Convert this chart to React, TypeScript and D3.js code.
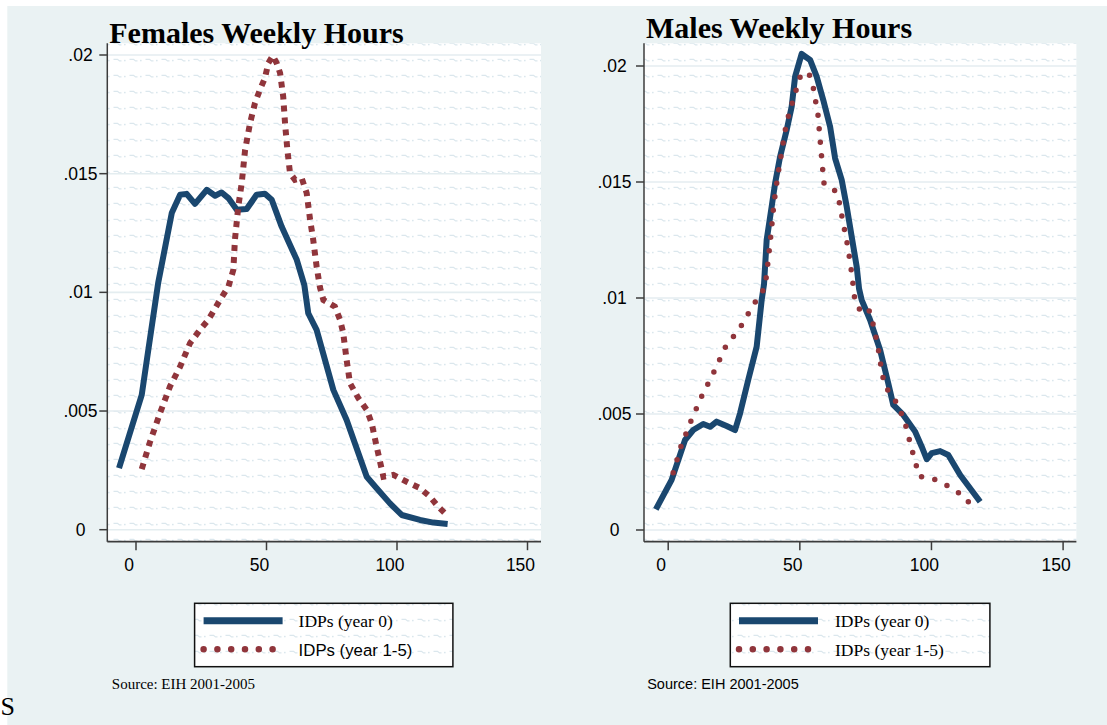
import * as d3 from "d3";

// kernel density of weekly hours: [hours, density]
const femalesYear0: [number, number][] = [
  [-6.5, 0.00259], [2.2, 0.00568], [5.1, 0.00786], [8.5, 0.0104], [13.7, 0.01334],
  [16.9, 0.01411], [19.4, 0.01415], [22.6, 0.01373], [27.1, 0.01432], [30.3, 0.01407],
  [32.8, 0.01421], [35.4, 0.01397], [38.6, 0.01348], [42.4, 0.01351], [46.2, 0.01411],
  [49.4, 0.01415], [52, 0.0139], [55.8, 0.01277], [61.6, 0.01137], [64.5, 0.0103],
  [66, 0.00912], [69.2, 0.00842], [75.6, 0.00589], [80.7, 0.00462], [88.4, 0.00223],
  [92.2, 0.00175], [97.3, 0.00111], [101.8, 0.00062], [108.8, 0.00041], [113.9, 0.0003],
  [119.4, 0.00024],
];
const femalesYear15: [number, number][] = [
  [2.2, 0.00255], [5.4, 0.00371], [9.2, 0.00491], [13, 0.00603], [16.9, 0.00687],
  [20.7, 0.00786], [24.5, 0.00842], [27.7, 0.00884], [32.2, 0.00968], [35.4, 0.01024],
  [37.3, 0.01095], [37.9, 0.01221], [39.2, 0.01362], [40.5, 0.0146], [41.8, 0.016],
  [43.7, 0.01713], [45.6, 0.01798], [47.5, 0.01854], [49.4, 0.01903], [50.7, 0.01966],
  [52.4, 0.01997], [53.9, 0.01966], [55.2, 0.01924], [56.4, 0.01825], [57.1, 0.01713],
  [58, 0.016], [59, 0.01503], [60.9, 0.01474], [63.5, 0.01481], [65.4, 0.01418],
  [66.7, 0.01306], [67.9, 0.01221], [69.2, 0.01109], [70.5, 0.0102], [71.8, 0.00968],
  [76.2, 0.0094], [78.2, 0.00884], [79.4, 0.00828], [80.7, 0.00715], [82, 0.00617],
  [85.2, 0.00554], [88.4, 0.00505], [90.3, 0.00449], [92.2, 0.0035], [94.8, 0.00223],
  [98.6, 0.00231], [103.7, 0.00202], [108.8, 0.00175], [112.6, 0.00139], [115.8, 0.00097],
  [119, 0.00062],
];
const malesYear0: [number, number][] = [
  [-4.7, 0.00089], [1.3, 0.00216], [6.4, 0.00388], [9.5, 0.00431], [13.3, 0.00457],
  [15.9, 0.00445], [18.4, 0.00467], [22.2, 0.00448], [25.4, 0.00431], [27.3, 0.00503],
  [30.4, 0.00647], [33.6, 0.0079], [35.5, 0.00991], [36.4, 0.0106], [37.4, 0.0125],
  [39.3, 0.01394], [40.6, 0.01494], [42.5, 0.01609], [45, 0.01724], [46.9, 0.01825],
  [48.2, 0.01954], [50.7, 0.02052], [53.9, 0.02026], [56.4, 0.01954], [58.9, 0.01853],
  [61.5, 0.01738], [63.4, 0.01602], [65.9, 0.01509], [67.8, 0.01394], [69.7, 0.01264],
  [71.6, 0.01135], [72.5, 0.0104], [73.5, 0.00991], [76.7, 0.00905], [80.5, 0.00776],
  [83.6, 0.00632], [85.5, 0.00539], [89.3, 0.00496], [93.8, 0.00424], [96.3, 0.00359],
  [98.2, 0.00305], [100.1, 0.00331], [103.3, 0.0034], [106.4, 0.00323], [110.9, 0.00237],
  [118.5, 0.00122],
];
const malesYear15: [number, number][] = [
  [1.9, 0.00247], [4.9, 0.00362], [8.7, 0.00471], [12.8, 0.00578], [17.4, 0.00682],
  [21.7, 0.00787], [27.5, 0.00876], [32.1, 0.00966], [36.8, 0.01046], [38, 0.01164],
  [39.1, 0.01282], [40.1, 0.01401], [41.5, 0.01519], [43.2, 0.01637], [44.9, 0.01753],
  [47.5, 0.01856], [50.6, 0.01971], [53.6, 0.01963], [55.1, 0.01907], [56.9, 0.01789],
  [57.8, 0.01669], [58.7, 0.01552], [59.2, 0.01493], [62, 0.0148], [64.4, 0.01448],
  [66.3, 0.01333], [68.3, 0.01217], [69.8, 0.01099], [71, 0.00981], [72.9, 0.00948],
  [75.9, 0.0096], [77.5, 0.00904], [79.7, 0.00789], [81.3, 0.00669], [82.8, 0.00612],
  [85.8, 0.00568], [88.1, 0.00516], [90, 0.0046], [92.6, 0.00345], [95.4, 0.0023],
  [99.6, 0.00225], [104, 0.00205], [108.3, 0.00175], [112.5, 0.00144], [115.7, 0.00096],
];

const xTicks = [0, 50, 100, 150];
const yTicks = [0, 0.005, 0.01, 0.015, 0.02];
const yTickLabels = ["0", ".005", ".01", ".015", ".02"];
const legendLabels = ["IDPs (year 0)", "IDPs (year 1-5)"];
const sourceNote = "Source: EIH 2001-2005";

const NAVY = "#1a476f";
const MAROON = "#90353b";
const BG = "#eaf2f3";
const SERIF = "'Liberation Serif', 'Times New Roman', serif";
const SANS = "'Liberation Sans', Arial, sans-serif";

interface PanelProps {
  title: string;
  year0: [number, number][];
  year15: [number, number][];
  px0: number; px1: number; py0: number; py1: number;
  xr: [number, number]; yr: [number, number];
  titleY: number; yLabelX: number;
  legX0: number; legX1: number; sampleX: number; legTextX: number;
  squareDots: boolean; secondLabelSans: boolean; sourceSans: boolean;
  sourceX: number;
}

function Panel(p: PanelProps) {
  const x = d3.scaleLinear().domain([0, 150]).range(p.xr);
  const y = d3.scaleLinear().domain([0, 0.02]).range(p.yr);
  const line = d3.line<[number, number]>().x(d => x(d[0])).y(d => y(d[1]));
  const axisCol = "#3c3c3c";
  return (
    <g>
      <rect x={p.px0} y={p.py0} width={p.px1 - p.px0} height={p.py1 - p.py0} fill="white" />
      <rect x={p.px0} y={p.py0} width={p.px1 - p.px0} height={p.py1 - p.py0} fill="url(#tex)" />
      {yTicks.map(t => (
        <line key={t} x1={p.px0} x2={p.px1} y1={y(t)} y2={y(t)} stroke="#e4edf0" strokeWidth={1.6} />
      ))}
      <path d={line(p.year0) || ""} fill="none" stroke={NAVY} strokeWidth={6} strokeLinejoin="round" />
      {p.squareDots ? (
        <path d={line(p.year15) || ""} fill="none" stroke={MAROON} strokeWidth={6} strokeDasharray="6 6" />
      ) : (
        <path d={line(p.year15) || ""} fill="none" stroke={MAROON} strokeWidth={5.5} strokeLinecap="round" strokeDasharray="0 13.6" />
      )}
      <line x1={p.px0} x2={p.px0} y1={p.py0} y2={p.py1} stroke={axisCol} strokeWidth={1.5} />
      <line x1={p.px0} x2={p.px1} y1={p.py1} y2={p.py1} stroke={axisCol} strokeWidth={1.8} />
      {yTicks.map((t, i) => (
        <g key={t}>
          <line x1={p.px0 - 8} x2={p.px0} y1={y(t)} y2={y(t)} stroke={axisCol} strokeWidth={1.5} />
          <text x={p.yLabelX} y={y(t) + 6} textAnchor="middle" fontFamily={SANS} fontSize={17.5}>{yTickLabels[i]}</text>
        </g>
      ))}
      {xTicks.map(t => (
        <g key={t}>
          <line x1={x(t)} x2={x(t)} y1={p.py1} y2={p.py1 + 8.5} stroke={axisCol} strokeWidth={1.5} />
          <text x={x(t) - 7} y={570.5} textAnchor="middle" fontFamily={SANS} fontSize={17.5}>{t}</text>
        </g>
      ))}
      <text x={p.px0 + 2} y={p.titleY} fontFamily={SERIF} fontWeight="bold" fontSize={30}>{p.title}</text>
      <rect x={p.legX0} y={603.3} width={p.legX1 - p.legX0} height={63.4} fill="white" />
      <rect x={p.legX0} y={603.3} width={p.legX1 - p.legX0} height={63.4} fill="url(#tex)" stroke="#111" strokeWidth={1.5} />
      <line x1={p.sampleX} x2={p.sampleX + 79} y1={620.7} y2={620.7} stroke={NAVY} strokeWidth={7} />
      <line x1={p.sampleX} x2={p.sampleX + 5 * 13.8 + 0.1} y1={649.3} y2={649.3} stroke={MAROON} strokeWidth={6.5} strokeLinecap="round" strokeDasharray="0 13.8" />
      <text x={p.legTextX} y={627} fontFamily={SERIF} fontSize={17.5}>{legendLabels[0]}</text>
      <text x={p.legTextX} y={655.5} fontFamily={p.secondLabelSans ? SANS : SERIF} fontSize={p.secondLabelSans ? 16.8 : 17.5}>{legendLabels[1]}</text>
      <text x={p.sourceX} y={689} fontFamily={p.sourceSans ? SANS : SERIF} fontSize={p.sourceSans ? 14.5 : 15}>{sourceNote}</text>
    </g>
  );
}

export default function App() {
  return (
    <div style={{ position: "absolute", left: 0, top: 0 }}>
      <svg width={1107} height={725} style={{ display: "block", overflow: "hidden" }}>
        <defs>
          <pattern id="tex" patternUnits="userSpaceOnUse" x={0} y={0} width={16} height={16}>
            <path d="M1.5,11.3 h4 l2,1.6 h2" fill="none" stroke="#dbe7ed" strokeWidth={1.3} />
            <rect x={12} y={11.8} width={1.6} height={1.5} fill="#dbe7ed" />
          </pattern>
        </defs>
        <rect x={0} y={0} width={1107} height={725} fill="white" />
        <rect x={7.3} y={6} width={1100} height={719} fill={BG} />
        <Panel
          title="Females Weekly Hours" year0={femalesYear0} year15={femalesYear15}
          px0={107.3} px1={541} py0={43.3} py1={541.7}
          xr={[136, 527.5]} yr={[529.7, 55]}
          titleY={42.5} yLabelX={80.5}
          legX0={194.6} legX1={452.9} sampleX={203.6} legTextX={298.6}
          squareDots={true} secondLabelSans={true} sourceSans={false} sourceX={111.8}
        />
        <Panel
          title="Males Weekly Hours" year0={malesYear0} year15={malesYear15}
          px0={644} px1={1076.4} py0={43.3} py1={541.7}
          xr={[668.2, 1063.1]} yr={[530, 66]}
          titleY={38.3} yLabelX={614.5}
          legX0={730.3} legX1={989.9} sampleX={739} legTextX={835}
          squareDots={false} secondLabelSans={false} sourceSans={true} sourceX={647.2}
        />
        <text x={0.5} y={715} fontFamily={SERIF} fontSize={26}>S</text>
      </svg>
    </div>
  );
}
